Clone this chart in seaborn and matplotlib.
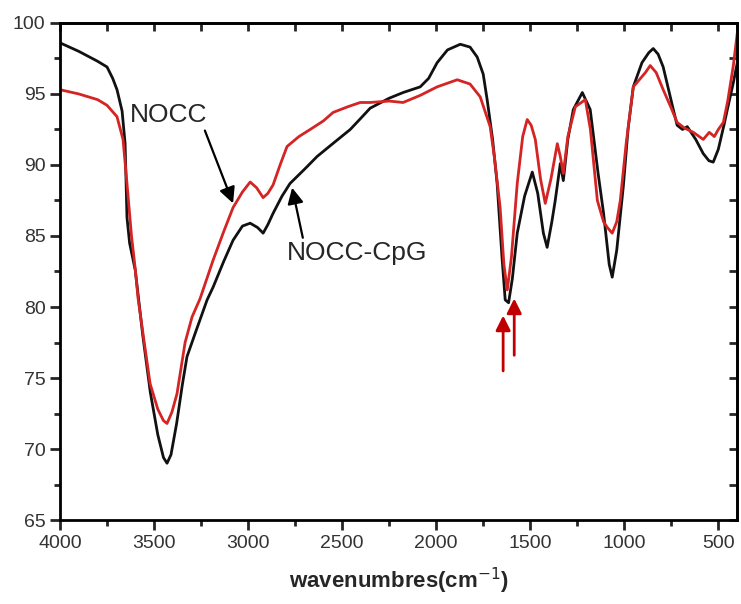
import pandas as pd
import matplotlib
matplotlib.use("Agg")
import matplotlib.pyplot as plt
import seaborn as sns
from matplotlib.ticker import MultipleLocator

# FTIR spectra
wn_cpg = [4000, 3900, 3800, 3750, 3720, 3697, 3670, 3654, 3644, 3630, 3600, 3560, 3520, 3480,
          3450, 3431, 3410, 3380, 3350, 3325, 3280, 3218, 3186, 3130, 3080, 3030, 2989, 2950,
          2920, 2895, 2867, 2820, 2777, 2700, 2633, 2550, 2457, 2400, 2351, 2250, 2176, 2085,
          2040, 1995, 1940, 1872, 1820, 1782, 1750, 1729, 1700, 1676, 1650, 1633, 1615, 1595,
          1569, 1530, 1489, 1460, 1430, 1410, 1385, 1367, 1340, 1324, 1300, 1271, 1223, 1181,
          1140, 1110, 1080, 1064, 1040, 1005, 980, 952, 906, 870, 846, 820, 793, 750, 719, 690,
          665, 620, 580, 550, 527, 500, 470, 452, 420, 399]
t_cpg = [98.6, 98.0, 97.3, 96.9, 96.1, 95.3, 93.8, 91.5, 86.3, 84.5, 82.6, 78.0, 74.0, 71.0,
         69.4, 69.0, 69.6, 71.8, 74.5, 76.5, 78.2, 80.5, 81.4, 83.2, 84.7, 85.7, 85.9, 85.6,
         85.2, 85.8, 86.6, 87.8, 88.7, 89.7, 90.6, 91.5, 92.5, 93.3, 94.0, 94.7, 95.1, 95.5,
         96.1, 97.2, 98.1, 98.5, 98.3, 97.6, 96.4, 94.6, 91.8, 88.7, 83.5, 80.5, 80.3, 82.0,
         85.2, 87.8, 89.5, 88.0, 85.2, 84.2, 86.0, 87.5, 90.1, 88.9, 91.8, 93.9, 95.1, 93.9,
         89.5, 86.6, 83.0, 82.1, 84.0, 88.5, 92.5, 95.5, 97.2, 97.9, 98.2, 97.8, 96.9, 94.5,
         92.8, 92.5, 92.7, 91.8, 90.8, 90.3, 90.2, 91.1, 92.8, 93.9, 95.8, 97.2]

wn_nocc = [4000, 3900, 3800, 3750, 3697, 3665, 3644, 3620, 3601, 3585, 3550, 3521, 3480, 3450,
           3431, 3405, 3378, 3335, 3298, 3255, 3186, 3130, 3080, 3030, 2989, 2955, 2920, 2895,
           2867, 2830, 2793, 2730, 2670, 2600, 2548, 2470, 2404, 2351, 2250, 2176, 2085, 1995,
           1888, 1820, 1766, 1713, 1690, 1660, 1640, 1622, 1600, 1569, 1540, 1516, 1495, 1473,
           1445, 1420, 1390, 1356, 1340, 1324, 1300, 1260, 1207, 1180, 1143, 1110, 1090, 1064,
           1040, 1021, 990, 952, 888, 862, 830, 793, 750, 719, 680, 633, 580, 548, 521, 500,
           473, 450, 420, 399]
t_nocc = [95.3, 95.0, 94.6, 94.2, 93.4, 91.8, 88.7, 85.0, 82.8, 80.6, 77.3, 74.6, 72.8, 72.0,
          71.8, 72.6, 73.9, 77.5, 79.3, 80.6, 83.3, 85.3, 87.0, 88.1, 88.8, 88.4, 87.7, 88.0,
          88.6, 90.0, 91.3, 92.0, 92.5, 93.1, 93.7, 94.1, 94.4, 94.4, 94.5, 94.4, 94.9, 95.5,
          96.0, 95.7, 94.8, 92.7, 90.5, 87.0, 83.0, 81.2, 83.5, 88.7, 92.0, 93.2, 92.8, 91.8,
          89.0, 87.3, 89.0, 91.5, 90.6, 89.4, 92.0, 94.1, 94.6, 92.5, 87.5, 86.0, 85.6, 85.2,
          86.0, 87.5, 91.5, 95.5, 96.5, 97.0, 96.5, 95.3, 94.0, 93.0, 92.6, 92.3, 91.8, 92.3,
          92.0, 92.5, 93.0, 94.5, 97.0, 99.3]

series_names = ["NOCC-CpG", "NOCC"]
series_colors = {"NOCC-CpG": "#111111", "NOCC": "#d42424"}

df = pd.concat([
    pd.DataFrame({"wn": wn_cpg, "T": t_cpg, "sample": "NOCC-CpG"}),
    pd.DataFrame({"wn": wn_nocc, "T": t_nocc, "sample": "NOCC"}),
], ignore_index=True)

sns.set_style("white")
plt.rcParams["font.family"] = ["Liberation Sans", "DejaVu Sans"]

fig = plt.figure(figsize=(7.41, 6.04), dpi=100)
ax = fig.add_axes([0.081, 0.139, 0.914, 0.823])

sns.lineplot(data=df, x="wn", y="T", hue="sample", hue_order=series_names,
             palette=series_colors, sort=False, estimator=None, linewidth=2.0,
             legend=False, ax=ax)

ax.set_xlim(4000, 399)
ax.set_ylim(65, 100)
ax.xaxis.set_major_locator(MultipleLocator(500))
ax.xaxis.set_minor_locator(MultipleLocator(250))
ax.yaxis.set_major_locator(MultipleLocator(5))
ax.yaxis.set_minor_locator(MultipleLocator(2.5))
ax.tick_params(which="major", direction="out", length=7, width=2, labelsize=14,
               labelcolor="#333333", bottom=True, left=True)
ax.tick_params(which="minor", direction="out", length=4, width=2, bottom=True, left=True)

for s in ax.spines.values():
    s.set_linewidth(2)
    s.set_color("black")

# mirrored inward ticks on top and right
top = ax.secondary_xaxis("top")
top.xaxis.set_major_locator(MultipleLocator(500))
top.xaxis.set_minor_locator(MultipleLocator(250))
top.tick_params(which="both", direction="in", length=6, width=2, labeltop=False)
right = ax.secondary_yaxis("right")
right.yaxis.set_major_locator(MultipleLocator(2.5))
right.tick_params(which="both", direction="in", length=6, width=2, labelright=False)
top.spines["top"].set_linewidth(2)
right.spines["right"].set_linewidth(2)

ax.set_xlabel("wavenumbres(cm$^{-1}$)", fontsize=16, fontweight="bold", labelpad=10)
ax.set_ylabel("")

# annotations
ax.annotate("NOCC", xy=(3080, 87.3), xytext=(3628, 93.5), fontsize=19,
            va="center", ha="left",
            arrowprops=dict(arrowstyle="-|>", color="black", lw=1.6,
                            mutation_scale=24, shrinkA=0, shrinkB=0,
                            relpos=(0.95, 0.0)))
ax.annotate("NOCC-CpG", xy=(2766, 88.4), xytext=(2795, 83.8), fontsize=19,
            va="center", ha="left",
            arrowprops=dict(arrowstyle="-|>", color="black", lw=1.6,
                            mutation_scale=24, shrinkA=0, shrinkB=0,
                            relpos=(0.12, 1.0)))
for x_arrow, y_tail, y_tip in [(1644, 75.5, 79.4), (1585, 76.6, 80.6)]:
    ax.annotate("", xy=(x_arrow, y_tip), xytext=(x_arrow, y_tail),
                arrowprops=dict(arrowstyle="-|>", color="#c00000", lw=2,
                                mutation_scale=22, shrinkA=0, shrinkB=0))

fig.savefig("out.png", dpi=100)
